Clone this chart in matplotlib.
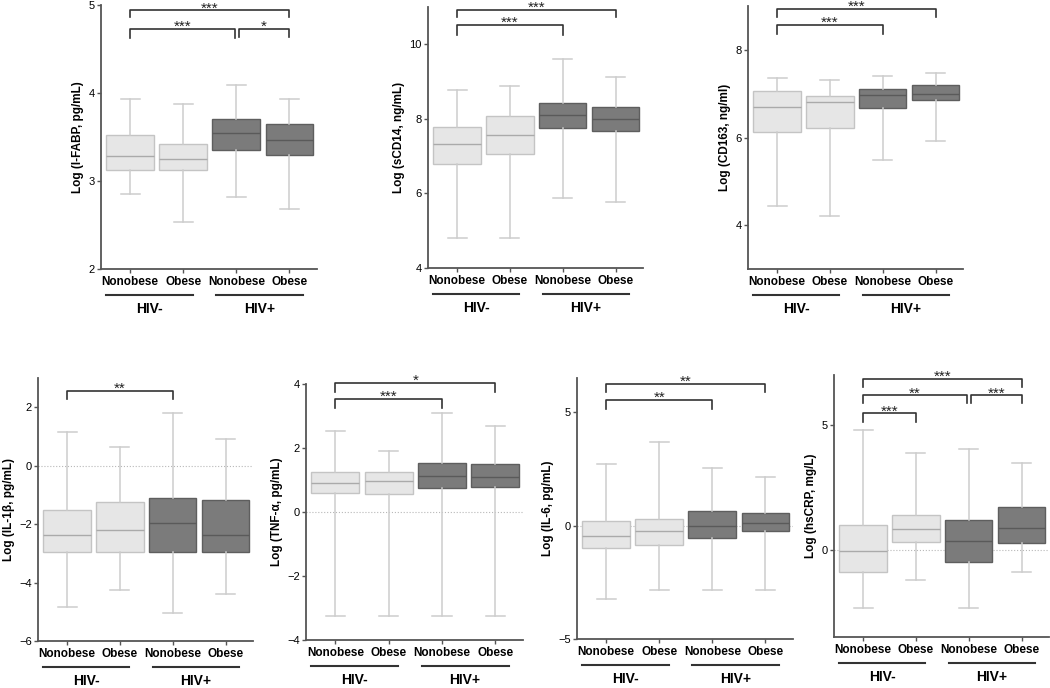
'''Box plots of gut / monocyte / inflammation markers
by HIV status and obesity (7 panels)'''

import matplotlib
matplotlib.use('Agg')
import matplotlib.pyplot as plt
import matplotlib.transforms as mtransforms

plt.rcParams['font.family'] = ['Liberation Sans', 'DejaVu Sans']

# categories
categories = ['Nonobese', 'Obese', 'Nonobese', 'Obese']
groups = ['HIV-', 'HIV+']

# five-number summaries per box: (whisker low, Q1, median, Q3, whisker high)
ifabp = [(2.85, 3.12, 3.28, 3.52, 3.93),
         (2.53, 3.12, 3.25, 3.42, 3.88),
         (2.82, 3.35, 3.55, 3.70, 4.09),
         (2.68, 3.29, 3.47, 3.65, 3.93)]
scd14 = [(4.80, 6.79, 7.33, 7.78, 8.78),
         (4.80, 7.06, 7.56, 8.07, 8.88),
         (5.89, 7.76, 8.10, 8.42, 9.60),
         (5.77, 7.67, 7.99, 8.32, 9.11)]
cd163 = [(4.44, 6.12, 6.70, 7.06, 7.35),
         (4.21, 6.21, 6.81, 6.95, 7.31),
         (5.48, 6.67, 6.98, 7.10, 7.41),
         (5.93, 6.86, 6.99, 7.19, 7.47)]
il1b = [(-4.83, -2.97, -2.36, -1.53, 1.15),
        (-4.24, -2.97, -2.19, -1.26, 0.65),
        (-5.04, -2.97, -1.95, -1.11, 1.81),
        (-4.40, -2.97, -2.36, -1.19, 0.92)]
tnfa = [(-3.24, 0.58, 0.90, 1.26, 2.54),
        (-3.24, 0.55, 0.98, 1.26, 1.92),
        (-3.24, 0.75, 1.11, 1.54, 3.08),
        (-3.24, 0.79, 1.08, 1.50, 2.69)]
il6 = [(-3.25, -1.00, -0.47, 0.19, 2.69),
       (-2.83, -0.85, -0.23, 0.29, 3.66),
       (-2.83, -0.56, -0.03, 0.63, 2.53),
       (-2.83, -0.23, 0.12, 0.56, 2.14)]
hscrp = [(-2.32, -0.91, -0.05, 0.97, 4.81),
         (-1.22, 0.32, 0.83, 1.39, 3.87),
         (-2.32, -0.50, 0.34, 1.17, 4.02),
         (-0.91, 0.27, 0.87, 1.69, 3.49)]

# significance brackets: (from box, to box, bracket top, leg bottom, label)
ifabp_sig = [(0, 3, 4.94, 4.86, '***'), (0, 1.98, 4.73, 4.63, '***'),
             (2.05, 3, 4.73, 4.64, '*')]
scd14_sig = [(0, 3, 10.93, 10.74, '***'), (0, 2, 10.52, 10.26, '***')]
cd163_sig = [(0, 3, 8.94, 8.75, '***'), (0, 2, 8.57, 8.37, '***')]
il1b_sig = [(0, 2, 2.56, 2.28, '**')]
tnfa_sig = [(0, 3, 4.04, 3.74, '*'), (0, 2, 3.54, 3.24, '***')]
il6_sig = [(0, 3, 6.25, 5.89, '**'), (0, 2, 5.53, 5.15, '**')]
hscrp_sig = [(0, 3, 6.84, 6.53, '***'), (0, 1.97, 6.18, 5.87, '**'),
             (2.05, 3, 6.18, 5.87, '***'), (0, 1, 5.46, 5.13, '***')]

LIGHT, LIGHT_EDGE, LIGHT_MED = '#e6e6e6', '#c4c4c4', '#aaaaaa'
DARK, DARK_EDGE, DARK_MED = '#7b7b7b', '#5e5e5e', '#5a5a5a'
WHISK = '#cdcdcd'
AXC = '#555555'

W, H = 1050, 688


def draw_panel(fig, rect_px, stats, sigs, ylabel, ylim, yticks, zero_line=False):
    l, r, t, b = rect_px
    ax = fig.add_axes([l / W, (H - b) / H, (r - l) / W, (b - t) / H])

    for i, (lo, q1, med, q3, hi) in enumerate(stats):
        dark = i >= 2
        bxp_stats = [dict(whislo=lo, q1=q1, med=med, q3=q3, whishi=hi, fliers=[])]
        ax.bxp(bxp_stats, positions=[i], widths=0.9, patch_artist=True,
               showfliers=False,
               boxprops=dict(facecolor=DARK if dark else LIGHT,
                             edgecolor=DARK_EDGE if dark else LIGHT_EDGE,
                             linewidth=1.0),
               medianprops=dict(color=DARK_MED if dark else LIGHT_MED,
                                linewidth=1.0),
               whiskerprops=dict(color=WHISK, linewidth=1.1),
               capprops=dict(color=WHISK, linewidth=1.1),
               capwidths=0.36, zorder=2)

    if zero_line:
        ax.axhline(0, color='#b8b8b8', linewidth=0.8, linestyle=':', zorder=1)

    ax.set_xlim(-0.55, 3.52)
    ax.set_ylim(*ylim)
    ax.set_yticks(yticks)
    ax.set_xticks(range(len(categories)))
    ax.set_xticklabels(categories, fontsize=8.5, fontweight='bold')
    ax.tick_params(axis='y', labelsize=8, length=3, width=1, color=AXC, pad=1.5)
    ax.tick_params(axis='x', length=3, width=1, color=AXC, pad=2)
    for side in ('top', 'right'):
        ax.spines[side].set_visible(False)
    for side in ('left', 'bottom'):
        ax.spines[side].set_color(AXC)
        ax.spines[side].set_linewidth(1.3)
    ax.set_ylabel(ylabel, fontsize=8.5, fontweight='bold', labelpad=3)

    # significance brackets
    for x0, x1, ytop, yleg, label in sigs:
        ax.plot([x0, x0, x1, x1], [yleg, ytop, ytop, yleg], color='#333333',
                linewidth=1.2, clip_on=False)
        ax.annotate(label, xy=((x0 + x1) / 2, ytop), xytext=(0, -1.5),
                    textcoords='offset points', ha='center', va='baseline',
                    fontsize=11, color='#222222', annotation_clip=False)

    # group lines and labels under the tick labels
    line_tr = mtransforms.offset_copy(ax.get_xaxis_transform(), fig=fig,
                                      y=-26, units='dots')
    for (x0, x1), name in zip([(-0.45, 1.18), (1.62, 3.25)], groups):
        ax.plot([x0, x1], [0, 0], color='#333333', linewidth=1.5,
                transform=line_tr, clip_on=False)
        ax.annotate(name, xy=((x0 + x1) / 2, 0), xycoords=ax.get_xaxis_transform(),
                    xytext=(0, -40 * 72 / 100), textcoords='offset points',
                    ha='center', va='center', fontsize=10, fontweight='bold',
                    annotation_clip=False)
    return ax


fig = plt.figure(figsize=(10.5, 6.88), dpi=100)

draw_panel(fig, (101, 317, 5, 269), ifabp, ifabp_sig,
           'Log (I-FABP, pg/mL)', (2, 5), [2, 3, 4, 5])
draw_panel(fig, (428, 643, 7, 268), scd14, scd14_sig,
           'Log (sCD14, ng/mL)', (4, 11), [4, 6, 8, 10])
draw_panel(fig, (748, 963, 6, 269), cd163, cd163_sig,
           'Log (CD163, ng/ml)', (3, 9), [4, 6, 8])
draw_panel(fig, (38, 253, 378, 641), il1b, il1b_sig,
           'Log (IL-1β, pg/mL)', (-6, 3), [-6, -4, -2, 0, 2], zero_line=True)
draw_panel(fig, (306, 523, 384, 640), tnfa, tnfa_sig,
           'Log (TNF-α, pg/mL)', (-4, 4), [-4, -2, 0, 2, 4], zero_line=True)
draw_panel(fig, (577, 793, 378, 639), il6, il6_sig,
           'Log (IL-6, pg/mL)', (-5, 6.5), [-5, 0, 5], zero_line=True)
draw_panel(fig, (834, 1049, 375, 637), hscrp, hscrp_sig,
           'Log (hsCRP, mg/L)', (-3.5, 7), [0, 5], zero_line=True)

plt.savefig('out.png', dpi=100)
